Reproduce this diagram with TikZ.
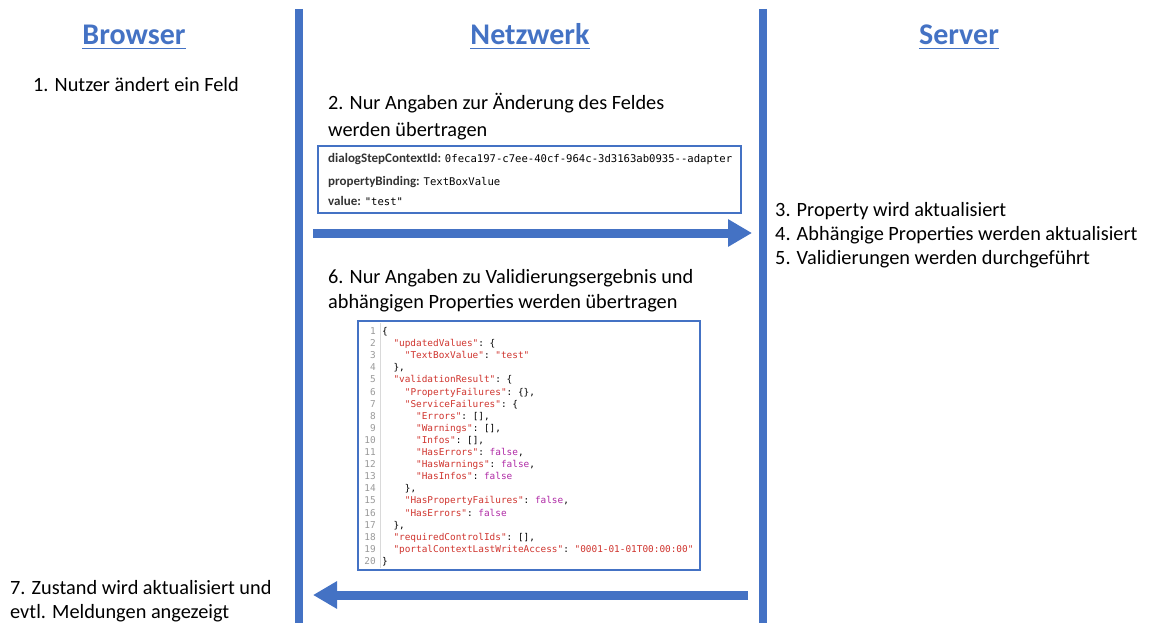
\documentclass[tikz,border=0pt]{standalone}
\usepackage{fontspec}
\setmainfont{Carlito}
\setmonofont{DejaVu Sans Mono}
\usetikzlibrary{arrows.meta}
\definecolor{msblue}{HTML}{4472C4}
\definecolor{jsred}{HTML}{D0352F}
\definecolor{jsmag}{HTML}{B02AA6}
\definecolor{lngrey}{HTML}{9A9A9A}
\definecolor{lblgrey}{HTML}{333333}
\newcommand{\K}[1]{\textcolor{jsred}{#1}}
\newcommand{\F}{\textcolor{jsmag}{false}}
\tikzset{
  hdr/.style={anchor=base, inner sep=0pt, text=msblue, font=\fontsize{30}{33}\selectfont\bfseries},
  txt/.style={anchor=base west, inner sep=0pt, font=\fontsize{20.3}{25}\selectfont},
  vline/.style={draw=msblue, line width=8pt},
  bigarrow/.style={draw=msblue, line width=9pt, -{Triangle[length=24pt,width=26pt]}},
  frame/.style={draw=msblue, line width=1.8pt, fill=white},
  lbl/.style={anchor=base west, inner sep=0pt, font=\fontsize{13}{15}\selectfont},
  code/.style={anchor=base west, inner sep=0pt, font=\ttfamily\fontsize{9.4}{11}\selectfont},
  lnum/.style={anchor=base east, inner sep=0pt, text=lngrey, font=\ttfamily\fontsize{9.4}{11}\selectfont},
}
\begin{document}
\begin{tikzpicture}[x=1pt,y=-1pt]
\useasboundingbox (0,0) rectangle (1151,623);
% vertical lines
\coordinate (l1t) at (299,9); \coordinate (l1b) at (299,623);
\coordinate (l2t) at (763,9); \coordinate (l2b) at (763,623);
\draw[vline] (l1t) -- (l1b);
\draw[vline] (l2t) -- (l2b);
% headers
\node[hdr] (hb) at (134,45) {Browser};
\node[hdr] (hn) at (530,45) {Netzwerk};
\node[hdr] (hs) at (959,45) {Server};
\foreach \h in {hb,hn,hs}
  \draw[msblue, line width=1.6pt] ([yshift=-3.5pt]\h.base west) -- ([yshift=-3.5pt]\h.base east);
% texts
\node[txt] (t1) at (33,92) {1. Nutzer ändert ein Feld};
\node[txt] (t2a) at (328,110) {2. Nur Angaben zur Änderung des Feldes};
\node[txt] (t2b) at (328,136) {werden übertragen};
\node[txt] (t3) at (775,216) {3. Property wird aktualisiert};
\node[txt] (t4) at (775,240) {4. Abhängige Properties werden aktualisiert};
\node[txt] (t5) at (775,264) {5. Validierungen werden durchgeführt};
\node[txt] (t6a) at (328,283) {6. Nur Angaben zu Validierungsergebnis und};
\node[txt] (t6b) at (328,308) {abhängigen Properties werden übertragen};
\node[txt] (t7a) at (10,594) {7. Zustand wird aktualisiert und};
\node[txt] (t7b) at (10,618) {evtl. Meldungen angezeigt};
% box 1
\draw[frame] (318,146) rectangle (741,213);
\node[lbl] (b1a) at (328,163) {\textcolor{lblgrey}{\textbf{dialogStepContextId:}} \ttfamily\fontsize{10.6}{12}\selectfont 0feca197-c7ee-40cf-964c-3d3163ab0935--adapter};
\node[lbl] (b1b) at (328,185) {\textcolor{lblgrey}{\textbf{propertyBinding:}} \ttfamily\fontsize{10.6}{12}\selectfont TextBoxValue};
\node[lbl] (b1c) at (328,205) {\textcolor{lblgrey}{\textbf{value:}} \ttfamily\fontsize{10.6}{12}\selectfont "test"};
% arrow 1
\coordinate (a1s) at (313,233); \coordinate (a1e) at (752,233);
\draw[bigarrow] (a1s) -- (a1e);
% box 2
\draw[frame] (358,321) rectangle (700,570);
\draw[black!15, line width=0.6pt] (380,323) -- (380,568);
\foreach \i in {1,...,20}
  \node[lnum] at (376,{334.5+(\i-1)*12.1}) {\i};
\def\Y#1{{334.5+(#1-1)*12.1}}
\node[code] at (382,\Y{1}) {\{};
\node[code] at (382,\Y{2}) {\ \ \K{"updatedValues"}: \{};
\node[code] at (382,\Y{3}) {\ \ \ \ \K{"TextBoxValue"}: \K{"test"}};
\node[code] at (382,\Y{4}) {\ \ \},};
\node[code] at (382,\Y{5}) {\ \ \K{"validationResult"}: \{};
\node[code] at (382,\Y{6}) {\ \ \ \ \K{"PropertyFailures"}: \{\},};
\node[code] at (382,\Y{7}) {\ \ \ \ \K{"ServiceFailures"}: \{};
\node[code] at (382,\Y{8}) {\ \ \ \ \ \ \K{"Errors"}: [],};
\node[code] at (382,\Y{9}) {\ \ \ \ \ \ \K{"Warnings"}: [],};
\node[code] at (382,\Y{10}) {\ \ \ \ \ \ \K{"Infos"}: [],};
\node[code] at (382,\Y{11}) {\ \ \ \ \ \ \K{"HasErrors"}: \F,};
\node[code] at (382,\Y{12}) {\ \ \ \ \ \ \K{"HasWarnings"}: \F,};
\node[code] at (382,\Y{13}) {\ \ \ \ \ \ \K{"HasInfos"}: \F};
\node[code] at (382,\Y{14}) {\ \ \ \ \},};
\node[code] at (382,\Y{15}) {\ \ \ \ \K{"HasPropertyFailures"}: \F,};
\node[code] at (382,\Y{16}) {\ \ \ \ \K{"HasErrors"}: \F};
\node[code] at (382,\Y{17}) {\ \ \},};
\node[code] at (382,\Y{18}) {\ \ \K{"requiredControlIds"}: [],};
\node[code] at (382,\Y{19}) {\ \ \K{"portalContextLastWriteAccess"}: \K{"0001-01-01T00:00:00"}};
\node[code] at (382,\Y{20}) {\}};
% arrow 2
\coordinate (a2s) at (748,595); \coordinate (a2e) at (313,595);
\draw[bigarrow] (a2s) -- (a2e);
\end{tikzpicture}
\end{document}
